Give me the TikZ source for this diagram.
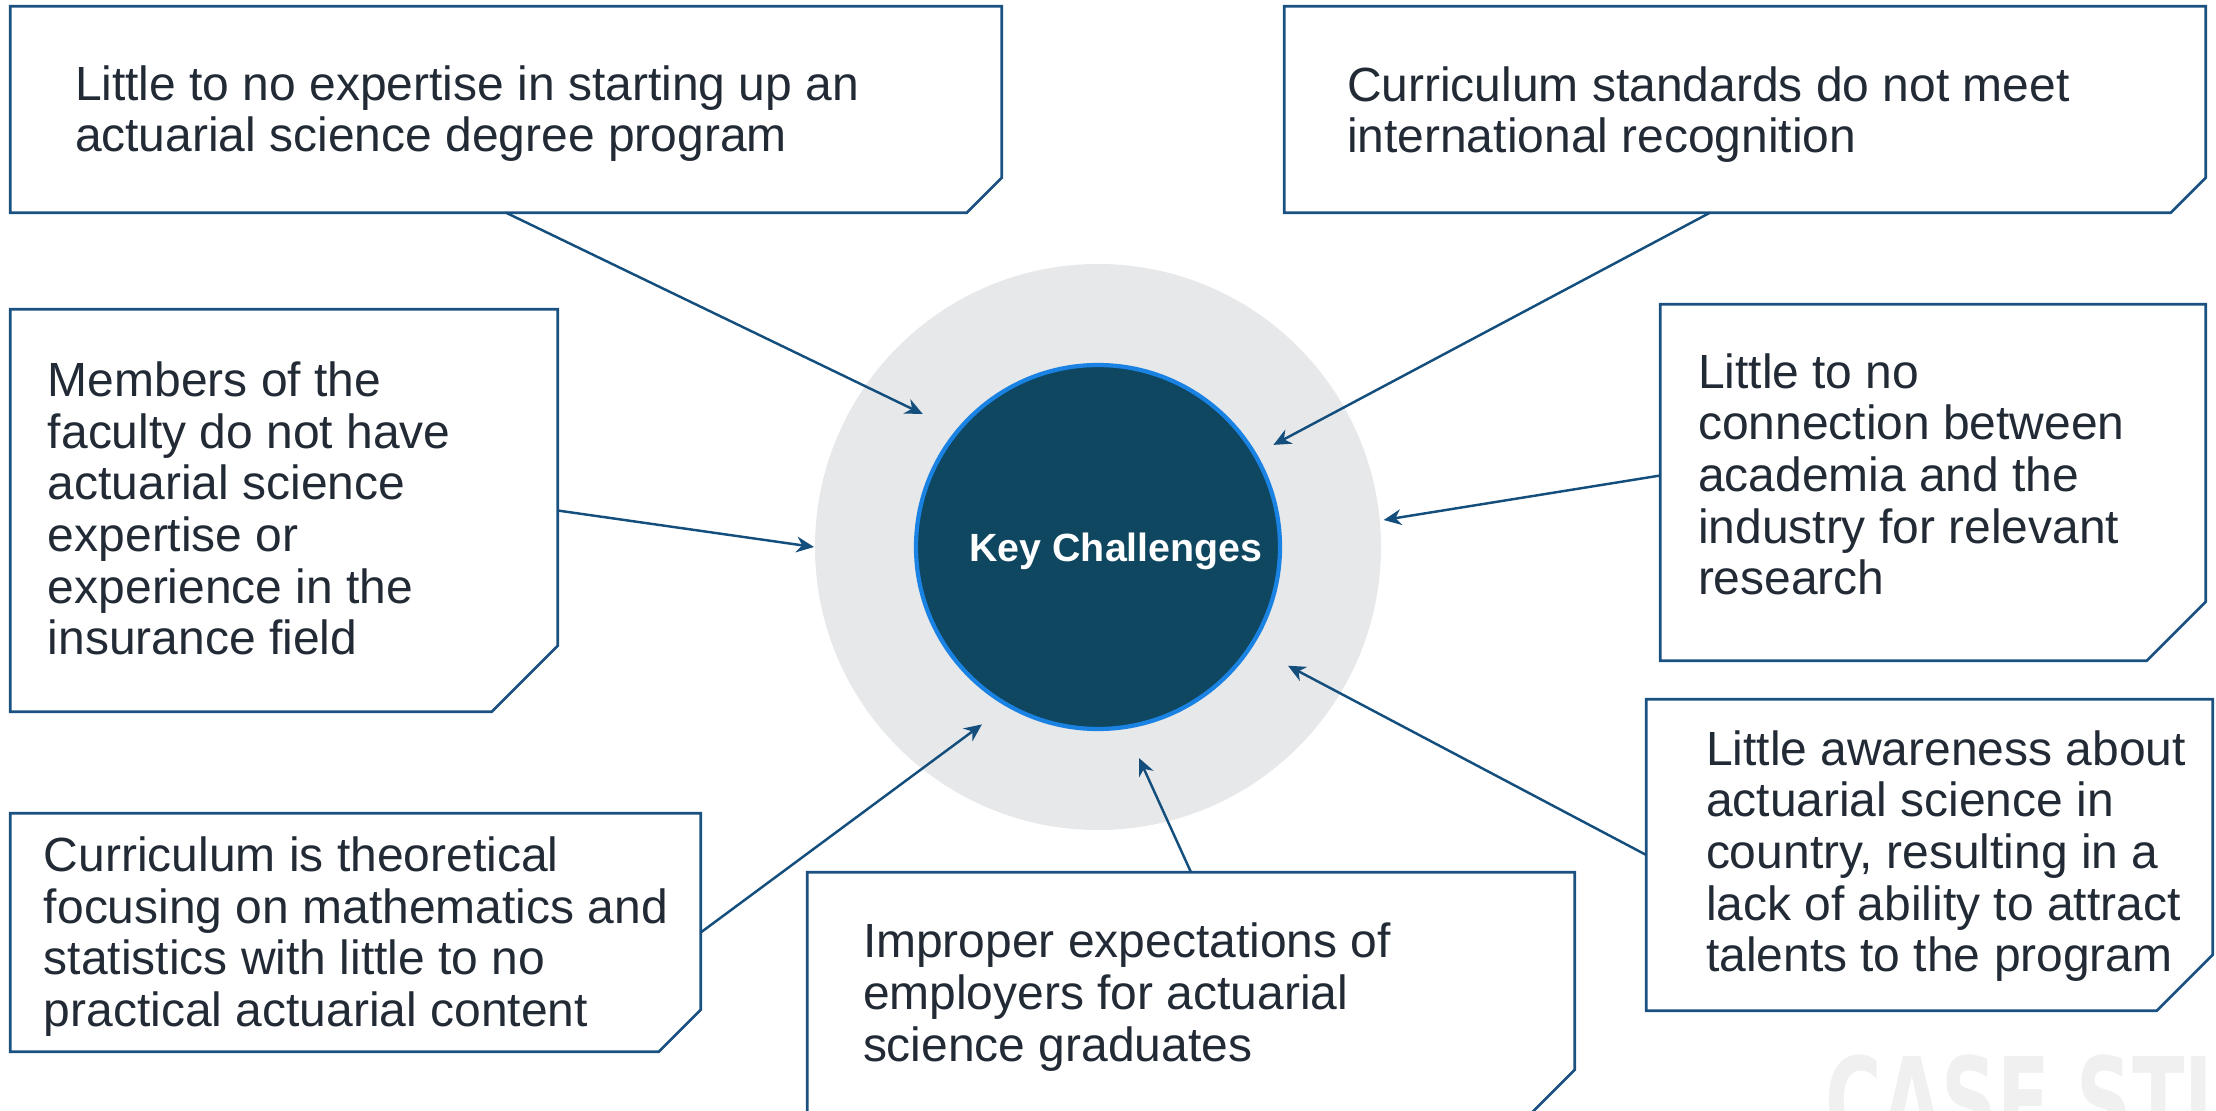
\documentclass[tikz,border=0pt]{standalone}
\usepackage{fontspec}
\setmainfont{Liberation Sans}
\newfontfamily\markfont{DejaVu Sans}
\usetikzlibrary{arrows.meta,calc}

\definecolor{txtgray}{HTML}{222A35}
\definecolor{boxblue}{HTML}{1B5180}
\definecolor{arrowblue}{HTML}{134E7C}
\definecolor{kcfill}{HTML}{0F4761}
\definecolor{kcring}{HTML}{1A82E2}
\definecolor{haze}{HTML}{E7E8EA}
\definecolor{mark}{HTML}{F0F0F0}

\begin{document}
\begin{tikzpicture}[
		every node/.style={inner sep=0pt},
		cardbox/.style={rectangle, draw=none},
		cardline/.style={draw=boxblue, line width=0.75pt},
		cardtext/.style={anchor=west, align=left, text=txtgray, font=\fontsize{13.65}{14.7}\selectfont},
		pointer/.style={draw=arrowblue, line width=0.7pt, -{Stealth[length=5pt, width=4.5pt]}}
	]
  \useasboundingbox (0,0) rectangle (22.16,11.10);
  \clip (0,0) rectangle (22.16,11.10);
  % watermark
  \node (mark) [anchor=north west, text=mark, font=\markfont\bfseries\fontsize{34}{34}\selectfont, xscale=0.645] at (18.25,0.56) {CASE STU};
  % centre
  \node (haze) [circle, fill=haze, minimum size=5.66cm] at (10.98,5.63) {};
  \node (kc) [circle, fill=kcfill, draw=kcring, line width=1.2pt, minimum size=3.64cm] at (haze) {};
  \node (kc_label) [text=white, font=\bfseries\fontsize{11.2}{13}\selectfont] at ($(kc)+(0.18,-0.04)$) {Key Challenges};
  % boxes
  \node (box1) [cardbox, minimum width=9.90cm, minimum height=2.05cm] at (5.06,10.005) {};
  \node (box1_label) [cardtext] at ($(box1.west)+(0.64,-0.04)$) {Little to no expertise in starting up an\\actuarial science degree program};
  \draw [cardline] (box1.north west) -- (box1.north east) -- ([yshift=0.35cm]box1.south east) -- ([xshift=-0.35cm]box1.south east) -- (box1.south west) -- cycle;
  \node (box2) [cardbox, minimum width=9.20cm, minimum height=2.05cm] at (17.45,10.005) {};
  \node (box2_label) [cardtext] at ($(box2.west)+(0.62,-0.05)$) {Curriculum standards do not meet\\international recognition};
  \draw [cardline] (box2.north west) -- (box2.north east) -- ([yshift=0.35cm]box2.south east) -- ([xshift=-0.35cm]box2.south east) -- (box2.south west) -- cycle;
  \node (box3) [cardbox, minimum width=5.46cm, minimum height=4.01cm] at (2.84,5.995) {};
  \node (box3_label) [cardtext] at ($(box3.west)+(0.37,0.02)$) {Members of the\\faculty do not have\\actuarial science\\expertise or\\experience in the\\insurance field};
  \draw [cardline] (box3.north west) -- (box3.north east) -- ([yshift=0.66cm]box3.south east) -- ([xshift=-0.66cm]box3.south east) -- (box3.south west) -- cycle;
  \node (box4) [cardbox, minimum width=5.44cm, minimum height=3.55cm] at (19.33,6.275) {};
  \node (box4_label) [cardtext] at ($(box4.west)+(0.37,0.08)$) {Little to no\\connection between\\academia and the\\industry for relevant\\research};
  \draw [cardline] (box4.north west) -- (box4.north east) -- ([yshift=0.59cm]box4.south east) -- ([xshift=-0.59cm]box4.south east) -- (box4.south west) -- cycle;
  \node (box5) [cardbox, minimum width=6.89cm, minimum height=2.37cm] at (3.555,1.775) {};
  \node (box5_label) [cardtext] at ($(box5.west)+(0.33,-0.04)$) {Curriculum is theoretical\\focusing on mathematics and\\statistics with little to no\\practical actuarial content};
  \draw [cardline] (box5.north west) -- (box5.north east) -- ([yshift=0.42cm]box5.south east) -- ([xshift=-0.42cm]box5.south east) -- (box5.south west) -- cycle;
  \node (box6) [cardbox, minimum width=7.66cm, minimum height=2.40cm] at (11.91,1.17) {};
  \node (box6_label) [cardtext] at ($(box6.west)+(0.55,-0.04)$) {Improper expectations of\\employers for actuarial\\science graduates};
  \draw [cardline] (box6.north west) -- (box6.north east) -- ([yshift=0.44cm]box6.south east) -- ([xshift=-0.44cm]box6.south east) -- (box6.south west) -- cycle;
  \node (box7) [cardbox, minimum width=5.65cm, minimum height=3.10cm] at (19.295,2.55) {};
  \node (box7_label) [cardtext] at ($(box7.west)+(0.59,-0.01)$) {Little awareness about\\actuarial science in\\country, resulting in a\\lack of ability to attract\\talents to the program};
  \draw [cardline] (box7.north west) -- (box7.north east) -- ([yshift=0.56cm]box7.south east) -- ([xshift=-0.56cm]box7.south east) -- (box7.south west) -- cycle;
  % arrow tips round the centre
  \coordinate (tip1) at ($(kc)+(142.8:2.20)$);
  \coordinate (tip2) at ($(kc)+(30.2:2.03)$);
  \coordinate (tip3) at ($(kc)+(180:2.84)$);
  \coordinate (tip4) at ($(kc)+(5.4:2.87)$);
  \coordinate (tip5) at ($(kc)+(236.8:2.12)$);
  \coordinate (tip6) at ($(kc)+(281:2.15)$);
  \coordinate (tip7) at ($(kc)+(328:2.24)$);
  \draw [pointer] (box1.south) -- (tip1);
  \draw [pointer] ($(box2.south)+(-0.35,0)$) -- (tip2);
  \draw [pointer] (box3.east) -- (tip3);
  \draw [pointer] ($(box4.west)+(0,0.07)$) -- (tip4);
  \draw [pointer] (box5.east) -- (tip5);
  \draw [pointer] (box6.north) -- (tip6);
  \draw [pointer] (box7.west) -- (tip7);
\end{tikzpicture}
\end{document}
